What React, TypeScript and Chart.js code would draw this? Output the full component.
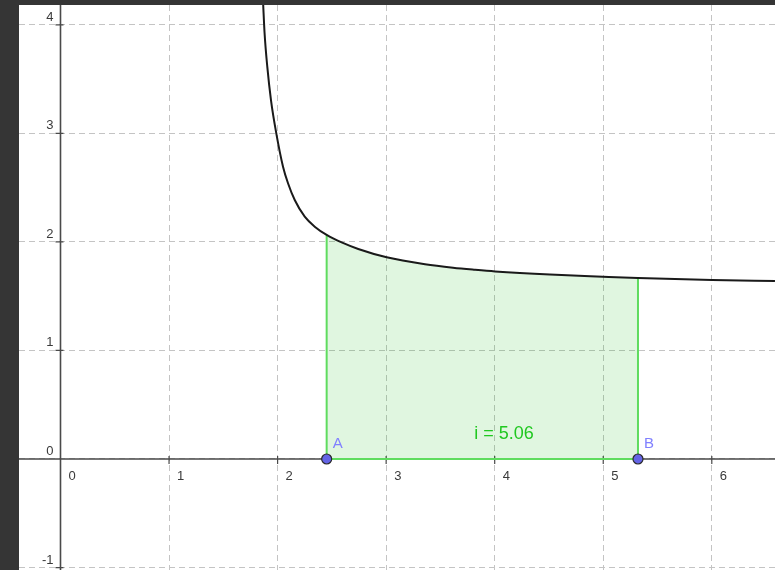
import React, { useEffect, useRef } from "react";
import { Chart, registerables } from "chart.js";

Chart.register(...registerables);

// Curve points (x, y in axis units)
const curveX = [1.866, 1.88, 1.905, 1.939, 1.988, 2.05, 2.096, 2.158, 2.25, 2.342, 2.452, 2.59, 2.743, 3.005, 3.358, 3.616, 3.819, 4.003, 4.509, 4.998, 5.32, 6.002, 6.582];
const curveY = [4.21, 3.924, 3.614, 3.307, 3.0, 2.693, 2.54, 2.386, 2.232, 2.14, 2.064, 1.995, 1.935, 1.858, 1.794, 1.762, 1.743, 1.728, 1.699, 1.679, 1.667, 1.649, 1.64];

// Integral bounds (points A and B) and curve heights there
const pointNames = ["A", "B"];
const pointX = [2.452, 5.32];
const pointY = [0, 0];
const boundHeights = [2.064, 1.667];
const integralLabel = "i = 5.06";
const integralLabelPos = [4.085, 0.185];

// Axes
const xTicks = [0, 1, 2, 3, 4, 5, 6];
const yTicks = [-1, 0, 1, 2, 3, 4];
const xRange = [-0.3823, 6.5823];
const yRange = [-1.0226, 4.1824];

const AXIS_COLOR = "#4a4a4a";
const LABEL_COLOR = "#3a3a3a";
const GRID_COLOR = "#c4c4c4";
const GREEN_LINE = "#5fdc5f";
const GREEN_FILL = "rgba(0,180,0,0.12)";
const GREEN_TEXT = "#20c820";
const POINT_FILL = "#6464e6";
const POINT_LABEL = "#8080ff";
const FONT = "Liberation Sans, Arial, sans-serif";

const geoPlugin = {
  id: "geoAxes",
  beforeDatasetsDraw(chart: any) {
    const ctx = chart.ctx;
    const xs = chart.scales.x;
    const ys = chart.scales.y;
    const x0 = xs.getPixelForValue(0);
    const y0 = ys.getPixelForValue(0);
    const area = chart.chartArea;
    ctx.save();
    ctx.strokeStyle = AXIS_COLOR;
    ctx.lineWidth = 1.6;
    ctx.beginPath();
    ctx.moveTo(area.left, y0);
    ctx.lineTo(area.right, y0);
    ctx.moveTo(x0, area.top);
    ctx.lineTo(x0, area.bottom);
    ctx.stroke();
    ctx.lineWidth = 1.2;
    ctx.beginPath();
    xTicks.forEach((v) => {
      if (v === 0) return;
      const px = xs.getPixelForValue(v);
      ctx.moveTo(px, y0 - 3);
      ctx.lineTo(px, y0 + 5);
    });
    yTicks.forEach((v) => {
      if (v === 0) return;
      const py = ys.getPixelForValue(v);
      ctx.moveTo(x0 - 5, py);
      ctx.lineTo(x0 + 3, py);
    });
    ctx.stroke();
    ctx.fillStyle = LABEL_COLOR;
    ctx.font = `13px ${FONT}`;
    ctx.textBaseline = "alphabetic";
    ctx.textAlign = "left";
    xTicks.forEach((v) => {
      const px = xs.getPixelForValue(v);
      ctx.fillText(String(v), px + 8, y0 + 21);
    });
    ctx.textAlign = "right";
    yTicks.forEach((v) => {
      const py = ys.getPixelForValue(v);
      ctx.fillText(String(v), x0 - 7, py - 4);
    });
    ctx.restore();
  },
  afterDatasetsDraw(chart: any) {
    const ctx = chart.ctx;
    const xs = chart.scales.x;
    const ys = chart.scales.y;
    ctx.save();
    ctx.font = `15px ${FONT}`;
    ctx.fillStyle = POINT_LABEL;
    ctx.textAlign = "left";
    ctx.textBaseline = "alphabetic";
    pointNames.forEach((n, i) => {
      const px = xs.getPixelForValue(pointX[i]);
      const py = ys.getPixelForValue(pointY[i]);
      ctx.fillText(n, px + 6, py - 11);
    });
    ctx.font = `18px ${FONT}`;
    ctx.fillStyle = GREEN_TEXT;
    ctx.textAlign = "center";
    ctx.fillText(
      integralLabel,
      xs.getPixelForValue(integralLabelPos[0]),
      ys.getPixelForValue(integralLabelPos[1])
    );
    ctx.restore();
  },
};

export default function App() {
  const ref = useRef<HTMLCanvasElement | null>(null);
  useEffect(() => {
    document.body.style.margin = "0";
    const canvas = ref.current;
    if (!canvas) return;
    const curve = curveX.map((x, i) => ({ x, y: curveY[i] }));
    const area = curve.filter((p) => p.x >= pointX[0] && p.x <= pointX[1]);
    const bounds = [
      { x: pointX[0], y: boundHeights[0] },
      { x: pointX[0], y: 0 },
      { x: pointX[1], y: 0 },
      { x: pointX[1], y: boundHeights[1] },
    ];
    const pts = pointX.map((x, i) => ({ x, y: pointY[i] }));
    const gridOpts = {
      color: GRID_COLOR,
      lineWidth: 1,
      drawTicks: false,
    };
    const chart = new Chart(canvas, {
      type: "line",
      data: {
        datasets: [
          {
            data: pts,
            showLine: false,
            pointRadius: 5,
            pointBackgroundColor: POINT_FILL,
            pointBorderColor: "#2a2a2a",
            pointBorderWidth: 1.2,
            clip: false,
          },
          {
            data: curve,
            borderColor: "#1a1a1a",
            borderWidth: 2,
            pointRadius: 0,
            cubicInterpolationMode: "monotone",
            fill: false,
          },
          {
            data: bounds,
            borderColor: GREEN_LINE,
            borderWidth: 2,
            pointRadius: 0,
            tension: 0,
            fill: false,
          },
          {
            data: area,
            borderWidth: 0,
            borderColor: "rgba(0,0,0,0)",
            backgroundColor: GREEN_FILL,
            pointRadius: 0,
            cubicInterpolationMode: "monotone",
            fill: "origin",
          },
        ],
      } as any,
      options: {
        animation: false,
        responsive: false,
        maintainAspectRatio: false,
        layout: { padding: 0, autoPadding: false },
        plugins: { legend: { display: false }, tooltip: { enabled: false } },
        events: [],
        scales: {
          x: {
            type: "linear",
            min: xRange[0],
            max: xRange[1],
            grid: gridOpts,
            border: { display: false, dash: [6, 4] },
            ticks: { display: false, stepSize: 1, includeBounds: false },
          },
          y: {
            type: "linear",
            min: yRange[0],
            max: yRange[1],
            grid: gridOpts,
            border: { display: false, dash: [6, 4] },
            ticks: { display: false, stepSize: 1, includeBounds: false },
          },
        },
      } as any,
      plugins: [geoPlugin],
    });
    return () => chart.destroy();
  }, []);

  return (
    <div
      style={{
        position: "absolute",
        left: 0,
        top: 0,
        width: 775,
        height: 570,
        background: "#353535",
        overflow: "hidden",
      }}
    >
      <div style={{ position: "absolute", left: 19, top: 5, width: 756, height: 565, background: "#ffffff" }}>
        <canvas ref={ref} width={756} height={565} style={{ width: 756, height: 565, display: "block" }} />
      </div>
    </div>
  );
}
